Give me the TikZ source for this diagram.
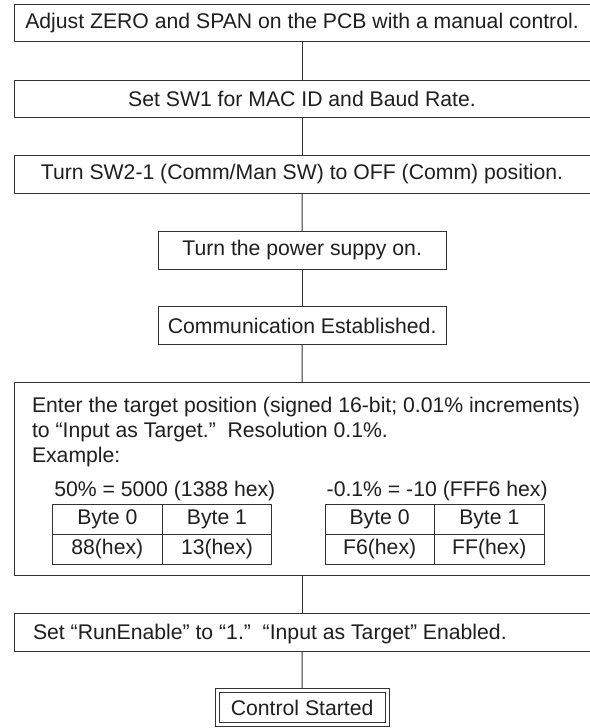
\documentclass[tikz,border=0pt]{standalone}
\usepackage{fontspec}
\setmainfont{Liberation Sans}
\begin{document}
\begin{tikzpicture}[x=1pt,y=-1pt,
  every node/.style={text=black!88, font=\fontsize{21.2}{25}\selectfont, inner sep=0pt, outer sep=0pt},
  box/.style={draw=black!80, line width=1pt, fill=white},
  link/.style={draw=black!80, line width=1pt},
  cell/.style={draw=black!80, line width=1pt, minimum height=30pt},
  txt/.style={anchor=base west}]
\fill[white] (0,0) rectangle (589,728);
\useasboundingbox (0,0) rectangle (589,728);

\node[box, minimum width=576pt, minimum height=37.8pt] (b1) at (302,23) {Adjust ZERO and SPAN on the PCB with a manual control.};
\node[box, minimum width=576pt, minimum height=37.8pt] (b2) at (302,99) {Set SW1 for MAC ID and Baud Rate.};
\node[box, minimum width=576pt, minimum height=37.8pt] (b3) at (302,174.5) {Turn SW2-1 (Comm/Man SW) to OFF (Comm) position.};
\node[box, minimum width=287.7pt, minimum height=37.8pt] (b4) at (302.15,250.4) {Turn the power suppy on.};
\node[box, minimum width=287.7pt, minimum height=37.8pt] (b5) at (302.15,325.5) {Communication Established.};
\node[box, minimum width=576pt, minimum height=192.7pt] (b6) at (302,478.65) {};
\node[box, minimum width=576pt, minimum height=37.8pt] (b7) at (302,632.2) {};
\node[txt] (t7) at (33,639.5) {Set “RunEnable” to “1.”\ \ “Input as Target” Enabled.};
\node[draw=black!80, line width=1pt, double, double distance=3pt, outer sep=2.5pt,
      minimum width=170.3pt, minimum height=34.7pt, fill=white] (b8) at (302.15,707.6) {Control Started};

% texts inside the large box
\node[txt] (l1) at (32,412) {Enter the target position (signed 16-bit; 0.01\% increments)};
\node[txt] (l2) at (32,437) {to “Input as Target.”\ \ Resolution 0.1\%.};
\node[txt] (l3) at (32,462.5) {Example:};
\node[txt] (e1) at (54.3,496) {50\% = 5000 (1388 hex)};
\node[txt] (e2) at (326.7,496) {-0.1\% = -10 (FFF6 hex)};

% table 1
\node[cell, minimum width=110pt] (c1a) at (107.3,519) {Byte 0};
\node[cell, minimum width=109.4pt] (c1b) at (217,519) {Byte 1};
\node[cell, minimum width=110pt] (c1c) at (107.3,549) {88(hex)};
\node[cell, minimum width=109.4pt] (c1d) at (217,549) {13(hex)};
% table 2
\node[cell, minimum width=109.3pt] (c2a) at (379.65,519) {Byte 0};
\node[cell, minimum width=110pt] (c2b) at (489.3,519) {Byte 1};
\node[cell, minimum width=109.3pt] (c2c) at (379.65,549) {F6(hex)};
\node[cell, minimum width=110pt] (c2d) at (489.3,549) {FF(hex)};

% connectors
\draw[link] (b1.south) -- (b2.north);
\draw[link] (b2.south) -- (b3.north);
\draw[link] (b3.south) -- (b4.north);
\draw[link] (b4.south) -- (b5.north);
\draw[link] (b5.south) -- (b6.north);
\draw[link] (b6.south) -- (b7.north);
\draw[link] (b7.south) -- (b8.north);
\end{tikzpicture}
\end{document}
